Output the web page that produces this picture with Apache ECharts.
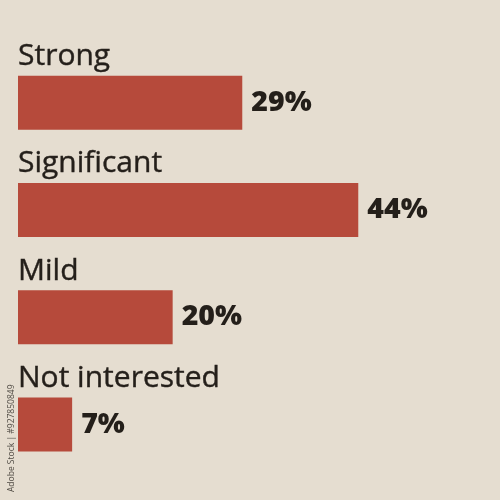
<!DOCTYPE html>
<html>
<head>
<meta charset="utf-8">
<script src="https://cdn.jsdelivr.net/npm/echarts@6/dist/echarts.min.js"></script>
<style>
  html, body { margin: 0; padding: 0; background: #e5ddd0; }
  #chart { width: 500px; height: 500px; }
</style>
</head>
<body>
<div id="chart"></div>
<script>
  const categories = ['Strong', 'Significant', 'Mild', 'Not interested'];
  const values = [29, 44, 20, 7];

  const barColor = '#b64a3b';
  const textColor = '#241f1a';

  const chart = echarts.init(document.getElementById('chart'));

  chart.setOption({
    backgroundColor: '#e5ddd0',
    animation: false,
    grid: {
      left: 18,
      top: 49,
      width: 464,
      height: 429,
    },
    xAxis: {
      type: 'value',
      min: 0,
      max: 60,
      show: false,
    },
    yAxis: {
      type: 'category',
      data: categories,
      inverse: true,
      show: false,
    },
    series: [
      {
        name: 'share',
        type: 'bar',
        data: values,
        barWidth: 54,
        itemStyle: {
          color: barColor,
        },
        label: {
          show: true,
          position: 'right',
          distance: 9,
          formatter: '{c}%',
          fontFamily: 'Open Sans',
          fontWeight: 800,
          fontSize: 28.5,
          color: textColor,
        },
      },
      {
        name: 'names',
        type: 'bar',
        data: values,
        barWidth: 54,
        barGap: '-100%',
        silent: true,
        itemStyle: {
          color: 'rgba(0,0,0,0)',
        },
        label: {
          show: true,
          position: [0, -4],
          verticalAlign: 'bottom',
          align: 'left',
          formatter: (p) => p.name,
          fontFamily: 'Open Sans',
          fontWeight: 500,
          fontSize: 30,
          color: textColor,
          textBorderColor: textColor,
          textBorderWidth: 0.4,
        },
      },
    ],
    graphic: [
      {
        type: 'text',
        x: 12,
        y: 492,
        rotation: Math.PI / 2,
        style: {
          text: 'Adobe Stock | #927850849',
          fontFamily: 'Open Sans',
          fontSize: 8.5,
          fill: '#4f4a43',
          textAlign: 'left',
          textVerticalAlign: 'middle',
        },
      },
    ],
  });
</script>
</body>
</html>
